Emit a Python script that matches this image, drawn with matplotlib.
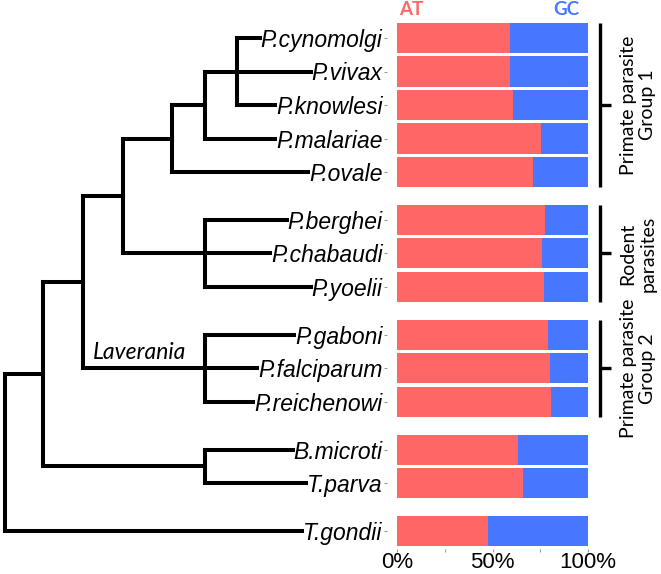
import matplotlib
matplotlib.use('Agg')
import matplotlib.pyplot as plt

plt.rcParams['font.family'] = ['Liberation Sans', 'DejaVu Sans']

# species in display order, split into groups
groups = [
    ['P.cynomolgi', 'P.vivax', 'P.knowlesi', 'P.malariae', 'P.ovale'],
    ['P.berghei', 'P.chabaudi', 'P.yoelii'],
    ['P.gaboni', 'P.falciparum', 'P.reichenowi'],
    ['B.microti', 'T.parva'],
    ['T.gondii'],
]
# AT fraction of each genome (GC is the rest)
at_frac = [0.592, 0.592, 0.607, 0.752, 0.712,
           0.775, 0.757, 0.771,
           0.792, 0.803, 0.805,
           0.634, 0.658,
           0.475]
group_labels = ['Primate parasite\nGroup 1', 'Rodent\nparasites', 'Primate parasite\nGroup 2']

# tree: (node depth, children); leaves are species names
tree = (5, [
    (43, [
        (83, [
            (123, [
                (172, [
                    (205, [
                        (237, ['P.cynomolgi', 'P.vivax', 'P.knowlesi']),
                        'P.malariae']),
                    'P.ovale']),
                (205, ['P.berghei', 'P.chabaudi', 'P.yoelii'])]),
            (205, ['P.gaboni', 'P.falciparum', 'P.reichenowi'])]),
        (205, ['B.microti', 'T.parva'])]),
    'T.gondii'])

AT_COLOR = '#FF6666'
GC_COLOR = '#4877FF'
GAP = 0.43

# row positions with extra gaps between groups
names, rows, group_rows = [], [], []
pos = 0.0
for g in groups:
    rr = []
    for n in g:
        names.append(n)
        rows.append(pos)
        rr.append(pos)
        pos += 1
    group_rows.append(rr)
    pos += GAP
row_of = dict(zip(names, rows))

W, H = 661, 574
fig = plt.figure(figsize=(W / 100, H / 100), dpi=100)
top_px, bot_px = 20, 549
px_per_row = 33.5
y_top = (top_px - 38) / px_per_row
y_bot = (bot_px - 38) / px_per_row
axt = fig.add_axes([0, (H - bot_px) / H, 387.5 / W, (bot_px - top_px) / H])
ax = fig.add_axes([387.5 / W, (H - bot_px) / H, 210 / W, (bot_px - top_px) / H])

gc_frac = [1 - a for a in at_frac]
ax.barh(rows, at_frac, height=0.9, color=AT_COLOR, edgecolor='none')
ax.barh(rows, gc_frac, left=at_frac, height=0.9, color=GC_COLOR, edgecolor='none')
ax.set_xlim(-0.05, 1.05)
ax.set_ylim(y_bot, y_top)
axt.set_ylim(y_bot, y_top)
for s in ax.spines.values():
    s.set_visible(False)
ax.set_yticks(rows)
ax.set_yticklabels(names, fontsize=16.5, style='italic')
ax.set_xticks([0, 0.25, 0.5, 0.75, 1.0])
ax.set_xticklabels(['0%', '', '50%', '', '100%'], fontsize=16)
ax.tick_params(axis='both', length=2.5, width=0.8, color='#999999', pad=1)
ax.tick_params(axis='x', pad=0)

# column headers, baseline just above the first bar
head_y = (15 - 38) / px_per_row
ax.text(0.073, head_y, 'AT', color=AT_COLOR, fontsize=13.5, fontweight='bold',
        family='Lato', ha='center', va='baseline', clip_on=False)
ax.text(0.885, head_y, 'GC', color=GC_COLOR, fontsize=13.5, fontweight='bold',
        family='Lato', ha='center', va='baseline', clip_on=False)

# group brackets
for rr, lab in zip(group_rows, group_labels):
    y0, y1 = rr[0] - 0.45, rr[-1] + 0.45
    ym = (rr[0] + rr[-1]) / 2
    ax.plot([1.063, 1.063], [y0, y1], color='black', lw=2.4, clip_on=False,
            solid_capstyle='butt')
    ax.plot([1.063, 1.12], [ym, ym], color='black', lw=2.4, clip_on=False,
            solid_capstyle='butt')
    ax.text(1.262, ym, lab, rotation=90, ha='center', va='center', fontsize=14,
            family='Lato', multialignment='center', linespacing=1.2, clip_on=False)

# tree
axt.set_xlim(0, 387.5)
axt.axis('off')
fig.canvas.draw()
inv = axt.transData.inverted()
leaf_end = {}
for lab in ax.get_yticklabels():
    bb = lab.get_window_extent()
    leaf_end[lab.get_text()] = inv.transform((bb.x0, 0))[0] - 1

LW = 2.9


def draw(node):
    if isinstance(node, str):
        return leaf_end[node], row_of[node]
    x, kids = node
    pts = [draw(k) for k in kids]
    ys = [p[1] for p in pts]
    axt.plot([x, x], [ys[0], ys[-1]], color='black', lw=LW,
             solid_capstyle='projecting')
    for (cx, cy) in pts:
        axt.plot([x, cx], [cy, cy], color='black', lw=LW, solid_capstyle='projecting')
    return x, (ys[0] + ys[-1]) / 2


draw(tree)
lav_row = row_of['P.falciparum']
axt.text(140, lav_row - 0.47, 'Laverania', style='italic', family='Lato',
         fontsize=16.5, ha='center', va='center')

fig.savefig('out.png', dpi=100)
